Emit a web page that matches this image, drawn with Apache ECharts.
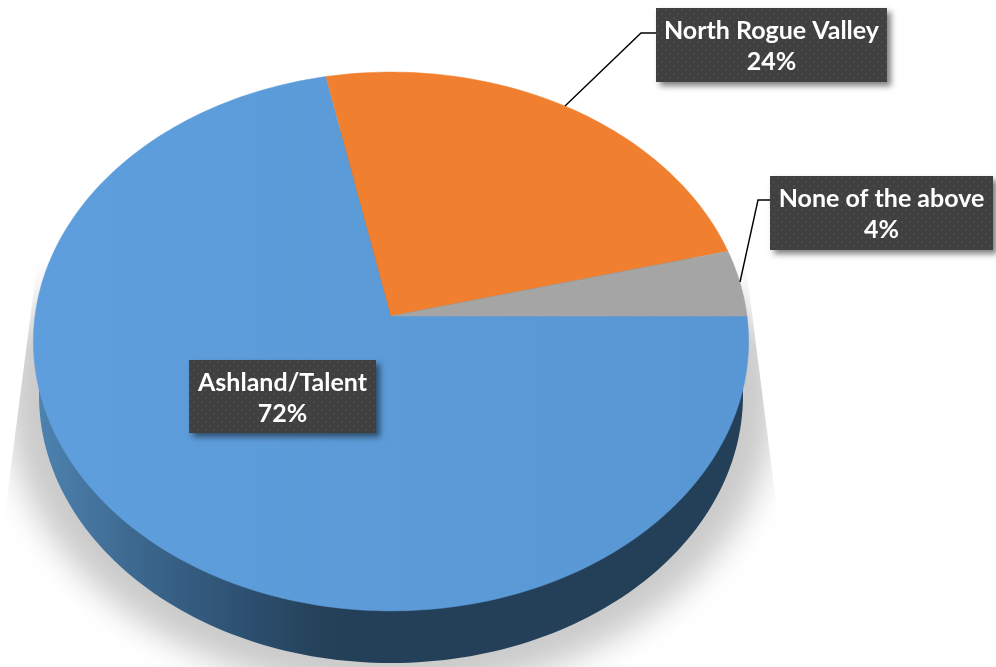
<!DOCTYPE html>
<html><head><meta charset="utf-8">
<style>html,body{margin:0;padding:0;background:#fff}#c{width:996px;height:667px}</style>
<script src="https://cdn.jsdelivr.net/npm/echarts@6/dist/echarts.min.js"></script>
</head><body><div id="c"></div>
<script>
const categories = ['Ashland/Talent', 'North Rogue Valley', 'None of the above'];
const values = [71.8, 24.2, 4];
const colors = ['#5b9bd5', '#f08030', '#a5a5a5'];

// layout (pixels), separate from data
const CX = 391, CY = 316, RX = 356, K = 267, C = -0.0946;
const boxes = [[189, 360, 187, 73], [656, 8, 231, 74], [770, 176, 223, 74]];
const leaders = [null, [[565, 106], [641, 33], [656, 33]], [[740, 282], [758, 200], [770, 200]]];
const FONT = 'bold 25px Lato';

const total = values.reduce((a, b) => a + b, 0);
function project(t) {
  const u = Math.cos(t), v = Math.sin(t), d = 1 + C * v;
  return [CX + RX * u / d, CY + K * v / d];
}
function sliceBounds(i) {
  let s = 0;
  for (let k = 0; k < i; k++) s += values[k];
  return [s / total * Math.PI * 2, (s + values[i]) / total * Math.PI * 2];
}

const tile = document.createElement('canvas');
tile.width = 8; tile.height = 8;
(function () {
  const g = tile.getContext('2d');
  g.fillStyle = '#404040'; g.fillRect(0, 0, 8, 8);
  g.fillStyle = '#4e4e4e';
  g.beginPath(); g.arc(2, 2, 1.1, 0, 7); g.fill();
  g.beginPath(); g.arc(6, 6, 1.1, 0, 7); g.fill();
})();

const wallGrad = new echarts.graphic.LinearGradient(0, 0, 1, 0, [
  { offset: 0, color: '#4d82af' },
  { offset: 0.16, color: '#3a648a' },
  { offset: 0.3, color: '#2c4f6f' },
  { offset: 0.4, color: '#254159' },
  { offset: 0.45, color: '#243f58' },
  { offset: 1, color: '#243f58' }
]);
const blueGrad = new echarts.graphic.LinearGradient(0, 0, 1, 0, [
  { offset: 0, color: '#5e9edc' },
  { offset: 1, color: '#5897d3' }
]);
const sliverFade = new echarts.graphic.LinearGradient(0, 0, 0, 1, [
  { offset: 0, color: 'rgba(255,255,255,1)' },
  { offset: 1, color: 'rgba(255,255,255,0)' }
]);

const option = {
  backgroundColor: '#ffffff',
  animation: false,
  series: [
    {
      type: 'custom', coordinateSystem: 'none', silent: true, z: 1,
      data: [[0]],
      renderItem: function () {
        const OFF = 3000;
        return {
          type: 'group',
          children: [
            {
              type: 'ellipse',
              shape: { cx: 391 + OFF, cy: 395, rx: 385, ry: 298 },
              style: { fill: '#cbcbcb', shadowColor: '#cbcbcb', shadowBlur: 32, shadowOffsetX: -OFF, shadowOffsetY: 0 },
              clipPath: { type: 'polygon', shape: { points: [[38, 258], [745, 258], [797, 667], [-15, 667]] } }
            },
            { type: 'rect', shape: { x: 0, y: 256, width: 996, height: 90 }, style: { fill: sliverFade } },
            { type: 'ellipse', shape: { cx: 391, cy: 395, rx: 352, ry: 268 }, style: { fill: wallGrad } }
          ]
        };
      }
    },
    {
      type: 'custom', coordinateSystem: 'none', silent: true, z: 2,
      data: values.map((v, i) => [v, i]),
      renderItem: function (params, api) {
        const i = api.value(1);
        const [a, b] = sliceBounds(i);
        const n = Math.max(8, Math.round(api.value(0) * 3));
        const pts = [[CX, CY]];
        for (let k = 0; k <= n; k++) pts.push(project(a + (b - a) * k / n));
        const fill = i === 0 ? blueGrad : colors[i];
        return { type: 'polygon', shape: { points: pts }, style: { fill: fill, stroke: fill, lineWidth: 0.5 } };
      }
    },
    {
      type: 'custom', coordinateSystem: 'none', silent: true, z: 3,
      data: values.map((v, i) => [v, i]),
      renderItem: function (params, api) {
        const i = api.value(1);
        const [x, y, w, h] = boxes[i];
        const kids = [];
        if (leaders[i]) kids.push({ type: 'polyline', shape: { points: leaders[i] }, style: { fill: null, stroke: '#000', lineWidth: 1.4 } });
        kids.push({ type: 'rect', shape: { x, y, width: w, height: h }, style: { fill: '#404040', shadowColor: 'rgba(0,0,0,0.5)', shadowBlur: 6, shadowOffsetX: 4, shadowOffsetY: 4 } });
        kids.push({ type: 'rect', shape: { x, y, width: w, height: h }, style: { fill: { image: tile, repeat: 'repeat' } } });
        kids.push({
          type: 'text',
          style: {
            x: x + w / 2, y: y + h / 2 + 1.5, text: categories[i] + '\n' + Math.round(api.value(0)) + '%',
            fill: '#ffffff', font: FONT, lineHeight: 31, align: 'center', verticalAlign: 'middle'
          }
        });
        return { type: 'group', children: kids };
      }
    }
  ]
};
const chart = echarts.init(document.getElementById('c'), null, { renderer: 'canvas', width: 996, height: 667 });
chart.setOption(option);
</script></body></html>
